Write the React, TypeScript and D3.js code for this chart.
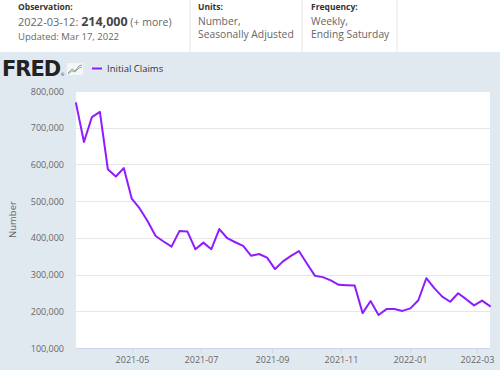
import React from 'react'
import * as d3 from 'd3'

// weekly initial claims, weeks ending Saturday
const weekEnding = [
  '2021-03-13', '2021-03-20', '2021-03-27', '2021-04-03', '2021-04-10', '2021-04-17', '2021-04-24',
  '2021-05-01', '2021-05-08', '2021-05-15', '2021-05-22', '2021-05-29', '2021-06-05', '2021-06-12',
  '2021-06-19', '2021-06-26', '2021-07-03', '2021-07-10', '2021-07-17', '2021-07-24', '2021-07-31',
  '2021-08-07', '2021-08-14', '2021-08-21', '2021-08-28', '2021-09-04', '2021-09-11', '2021-09-18',
  '2021-09-25', '2021-10-02', '2021-10-09', '2021-10-16', '2021-10-23', '2021-10-30', '2021-11-06',
  '2021-11-13', '2021-11-20', '2021-11-27', '2021-12-04', '2021-12-11', '2021-12-18', '2021-12-25',
  '2022-01-01', '2022-01-08', '2022-01-15', '2022-01-22', '2022-01-29', '2022-02-05', '2022-02-12',
  '2022-02-19', '2022-02-26', '2022-03-05', '2022-03-12',
]
const claims = [
  767000, 661000, 729000, 743000, 587000, 567000, 590000,
  507000, 480000, 445000, 405000, 390000, 376000, 419000,
  417000, 369000, 387000, 369000, 424000, 399000, 388000,
  378000, 351000, 356000, 346000, 315000, 336000, 351000,
  364000, 330000, 297000, 293000, 284000, 272000, 271000,
  270000, 195000, 228000, 190000, 206000, 206000, 201000,
  208000, 230000, 290000, 263000, 240000, 226000, 249000,
  233000, 216000, 229000, 214000,
]
const yTicks = [100000, 200000, 300000, 400000, 500000, 600000, 700000, 800000]
const xTicks = ['2021-05-01', '2021-07-01', '2021-09-01', '2021-11-01', '2022-01-01', '2022-03-01']

const parse = d3.timeParse('%Y-%m-%d')
const font = '"Open Sans", Arial, sans-serif'
const lineColor = '#8f1cff'

export default function App() {
  const W = 500
  const H = 370
  const plot = { left: 76, right: 490, top: 91, bottom: 348 }

  const dates = weekEnding.map(d => parse(d) as Date)
  const x = d3.scaleTime()
    .domain([dates[0], dates[dates.length - 1]])
    .range([plot.left, plot.right])
  const y = d3.scaleLinear().domain([100000, 800000]).range([plot.bottom, plot.top])

  const line = d3.line<number>()
    .x((_, i) => x(dates[i]))
    .y(d => y(d))

  const fmtY = d3.format(',')
  const fmtX = d3.timeFormat('%Y-%m')

  return (
    <svg width={W} height={H} style={{ position: 'absolute', left: 0, top: 0, display: 'block' }}
      fontFamily={font}>
      {/* header */}
      <rect x={0} y={0} width={W} height={52} fill="#fff" />
      <g fill="#666">
        <text x={18} y={10} fontSize={8.5} fontWeight="bold" fill="#333">Observation:</text>
        <text x={18} y={26} fontSize={11}>
          2022-03-12: <tspan fontWeight="bold" fontSize={12.5} fill="#444">214,000</tspan>
          <tspan fontSize={10.5}> (+ more)</tspan>
        </text>
        <text x={18} y={40} fontSize={9.5}>Updated: Mar 17, 2022</text>

        <text x={198} y={10} fontSize={8.5} fontWeight="bold" fill="#333">Units:</text>
        <text x={198} y={25} fontSize={10.3}>Number,</text>
        <text x={198} y={38} fontSize={10.3}>Seasonally Adjusted</text>

        <text x={311} y={10} fontSize={8.5} fontWeight="bold" fill="#333">Frequency:</text>
        <text x={311} y={25} fontSize={10.3}>Weekly,</text>
        <text x={311} y={38} fontSize={10.3}>Ending Saturday</text>
      </g>
      {[190, 302, 397].map(sx => (
        <line key={sx} x1={sx} x2={sx} y1={0} y2={52} stroke="#e6e6e6" />
      ))}

      {/* chart background */}
      <rect x={0} y={52} width={W} height={H - 52} fill="#e1e9f0" />

      {/* FRED logo + legend */}
      <text x={2} y={76} fontSize={21} fontWeight="900" fill="#222" letterSpacing={-1}
        fontFamily='"DejaVu Sans", Arial, sans-serif'>FRED</text>
      <text x={61} y={76} fontSize={4} fill="#222">®</text>
      <g transform="translate(67,63)">
        <rect x={0} y={0} width={16} height={12} fill="#f4f6f8" rx={1} />
        <polyline points="1,10 5,6 8,8 12,3 15,2" fill="none" stroke="#8aa86a" strokeWidth={1} />
        <polyline points="1,11 5,8 8,9 12,5 15,4" fill="none" stroke="#8fa9c4" strokeWidth={1} />
      </g>
      <line x1={92} x2={102} y1={68.5} y2={68.5} stroke={lineColor} strokeWidth={2} />
      <text x={107} y={72} fontSize={9.5} fill="#333">Initial Claims</text>

      {/* plot */}
      <rect x={plot.left} y={plot.top} width={plot.right - plot.left} height={plot.bottom - plot.top} fill="#fff" />
      {yTicks.map(t => (
        <g key={t}>
          {t > 100000 && (
            <line x1={plot.left} x2={plot.right} y1={Math.round(y(t)) + 0.5} y2={Math.round(y(t)) + 0.5}
              stroke="#e6e6e6" />
          )}
          <text x={64} y={y(t) + 3.5} textAnchor="end" fontSize={9} fill="#666">{fmtY(t)}</text>
        </g>
      ))}
      <line x1={plot.left} x2={plot.right} y1={plot.bottom + 0.5} y2={plot.bottom + 0.5} stroke="#ccd6eb" />
      {xTicks.map(t => {
        const d = parse(t) as Date
        const px = Math.round(x(d)) + 0.5
        return (
          <g key={t}>
            <line x1={px} x2={px} y1={plot.bottom} y2={plot.bottom + 5} stroke="#ccd6eb" />
            <text x={px} y={363} textAnchor="middle" fontSize={9} fill="#666">{fmtX(d)}</text>
          </g>
        )
      })}
      <text transform={`translate(16,${(plot.top + plot.bottom) / 2}) rotate(-90)`} textAnchor="middle"
        fontSize={9.5} fill="#666">Number</text>

      <path d={line(claims) || ''} fill="none" stroke={lineColor} strokeWidth={2}
        strokeLinejoin="round" strokeLinecap="round" />
    </svg>
  )
}
